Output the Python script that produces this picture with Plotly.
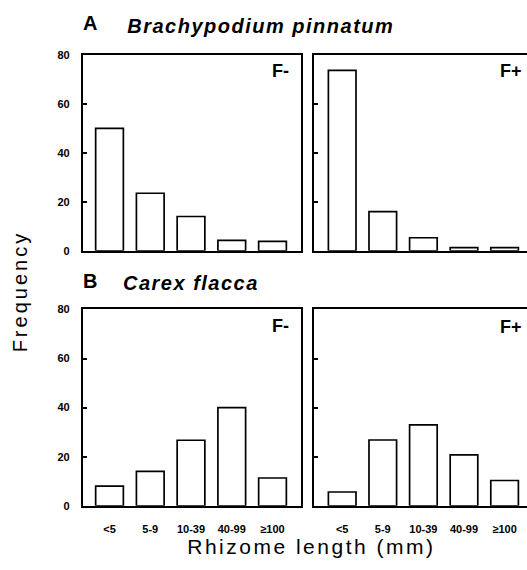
import plotly.graph_objects as go

categories = ["<5", "5-9", "10-39", "40-99", "≥100"]
brachy_f_minus = [50, 23.5, 14, 4.2, 3.8]
brachy_f_plus = [73.7, 16, 5.3, 1.3, 1.3]
carex_f_minus = [8, 14, 26.7, 40, 11.3]
carex_f_plus = [5.6, 26.8, 33, 20.7, 10.3]
y_ticks = [0, 20, 40, 60, 80]

W, H = 527, 570
FONT = "Liberation Sans, Arial, Helvetica, sans-serif"

def px_x(v):
    return v / W

def px_y(v):
    return 1 - v / H

fig = go.Figure()

panels = [
    ("x", "y", brachy_f_minus),
    ("x2", "y2", brachy_f_plus),
    ("x3", "y3", carex_f_minus),
    ("x4", "y4", carex_f_plus),
]
for xa, ya, vals in panels:
    fig.add_trace(go.Bar(
        x=categories, y=vals, xaxis=xa, yaxis=ya, width=0.68,
        marker=dict(color="white", line=dict(color="black", width=1.7)),
        showlegend=False, hoverinfo="skip",
    ))

left_dom = [px_x(82.7), px_x(300.7)]
right_dom = [px_x(314.3), 1.0]
top_dom = [px_y(250), px_y(50)]
bot_dom = [px_y(510.5), px_y(310)]
left_range = [-0.658, 4.692]
right_range = [-0.687, 4.552]

tickfont = dict(family=FONT, size=11, color="black", weight="bold")

def xax(dom, rng, anchor, labels):
    return dict(domain=dom, range=rng, anchor=anchor, type="category",
                showline=True, linecolor="black", linewidth=1.7, mirror=True,
                showgrid=False, zeroline=False, ticks="", showticklabels=labels,
                tickfont=tickfont, ticklabelstandoff=12, fixedrange=True)

def yax(dom, anchor, labels, mirror):
    return dict(domain=dom, range=[0, 80], anchor=anchor,
                showline=True, linecolor="black", linewidth=1.7, mirror=mirror,
                showgrid=False, zeroline=False, tickvals=y_ticks,
                ticks="inside", ticklen=4, tickwidth=1.5, tickcolor="black",
                showticklabels=labels, tickfont=tickfont, ticklabelstandoff=9,
                fixedrange=True)

fig.update_layout(
    width=W, height=H,
    margin=dict(l=0, r=0, t=0, b=0),
    paper_bgcolor="white", plot_bgcolor="white",
    xaxis=xax(left_dom, left_range, "y", False),
    xaxis2=xax(right_dom, right_range, "y2", False),
    xaxis3=xax(left_dom, left_range, "y3", True),
    xaxis4=xax(right_dom, right_range, "y4", True),
    yaxis=yax(top_dom, "x", True, True),
    yaxis2=yax(top_dom, "x2", False, False),
    yaxis3=yax(bot_dom, "x3", True, True),
    yaxis4=yax(bot_dom, "x4", False, False),
)

def ann(text, x, y, size, xanchor="center", italic=False, bold=True, angle=0):
    fig.add_annotation(
        text=text, x=px_x(x), y=px_y(y), xref="paper", yref="paper",
        xanchor=xanchor, yanchor="middle", showarrow=False, textangle=angle,
        font=dict(family=FONT, size=size, color="black",
                  weight="bold" if bold else "normal",
                  style="italic" if italic else "normal"),
    )

ann("A", 81, 17, 20, xanchor="left")
ann("Brachypodium pinnatum", 261, 20, 20, italic=True)
ann("B", 81, 281, 20, xanchor="left")
ann("Carex flacca", 191, 283, 20, italic=True)
ann("F-", 291, 66.5, 18, xanchor="right")
ann("F+", 524, 66.5, 18, xanchor="right")
ann("F-", 291, 327, 18, xanchor="right")
ann("F+", 524, 328, 18, xanchor="right")
ann("Frequency", 20, 292, 20, bold=False, angle=-90)
ann("Rhizome length (mm)", 311, 552, 21, bold=False)

post = """
document.body.style.margin = '0';
var gd = document.getElementById('{plot_id}');
function fixSpacing() {
  var sp = {'Rhizome length (mm)': '2.5px', 'Frequency': '3px',
            'Brachypodium pinnatum': '1.5px', 'Carex flacca': '1.5px'};
  gd.querySelectorAll('text.annotation-text').forEach(function (t) {
    var s = sp[t.textContent];
    if (s) { t.style.letterSpacing = s; }
  });
}
fixSpacing();
gd.on('plotly_afterplot', fixSpacing);
"""

fig.write_html("out.html", post_script=post, config={"displayModeBar": False})
